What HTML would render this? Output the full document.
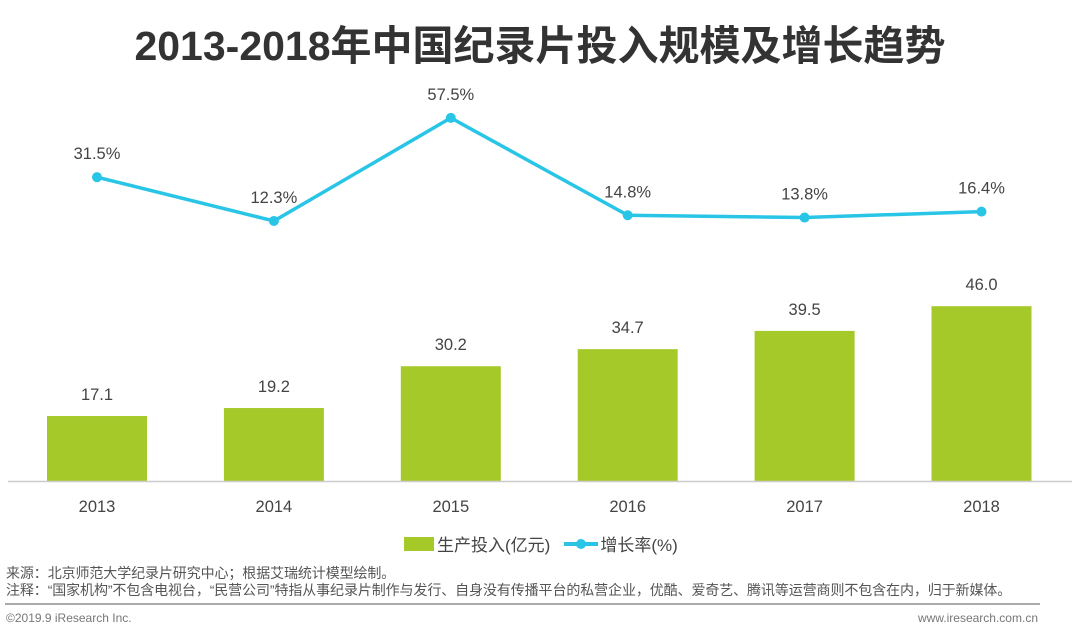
<!DOCTYPE html>
<html><head><meta charset="utf-8">
<style>
body{margin:0;width:1080px;height:637px;background:#fff;font-family:"Liberation Sans","Noto Sans CJK SC",sans-serif;overflow:hidden;position:relative}
.t{position:absolute}
</style></head><body>
<div class="t" style="left:0;width:1080px;top:12px;text-align:center;font-size:41px;font-weight:bold;color:#333">2013-2018年中国纪录片投入规模及增长趋势</div>
<svg id="chart" width="1080" height="560" style="position:absolute;left:0;top:0"></svg>
<div class="t" style="left:404px;top:531px;font-size:17px;color:#444;display:flex;align-items:center">
<span style="display:inline-block;width:30px;height:14px;background:#a6c92a;margin-right:3px"></span><span>生产投入(亿元)</span>
<svg width="34" height="14" style="margin-left:14px"><line x1="0" y1="7" x2="34" y2="7" stroke="#29c5e6" stroke-width="4"/><circle cx="17" cy="7" r="5" fill="#29c5e6"/></svg><span style="margin-left:2px">增长率(%)</span></div>
<div class="t" style="left:6px;top:565px;font-size:14px;color:#555;line-height:17px;letter-spacing:-0.1px">来源：北京师范大学纪录片研究中心；根据艾瑞统计模型绘制。<br>注释：“国家机构”不包含电视台，“民营公司”特指从事纪录片制作与发行、自身没有传播平台的私营企业，优酷、爱奇艺、腾讯等运营商则不包含在内，归于新媒体。</div>
<div style="position:absolute;left:5px;top:603px;width:1035px;height:2px;background:#aaa"></div>
<div class="t" style="left:6px;top:611px;font-size:12px;color:#777">©2019.9 iResearch Inc.</div>
<div class="t" style="right:42px;top:611px;font-size:12px;color:#777">www.iresearch.com.cn</div>
<script>
const categories=["2013","2014","2015","2016","2017","2018"];
const investment=[17.1,19.2,30.2,34.7,39.5,46.0];
const growth=[31.5,12.3,57.5,14.8,13.8,16.4];
const svg=document.getElementById('chart');
const NS='http://www.w3.org/2000/svg';
const x0=97,step=176.9,base=481,barW=100;
const xs=i=>x0+i*step;
const yBar=v=>base-v*3.8;
const yLine=v=>249-v*2.28;
function mk(tag,attrs,text){const e=document.createElementNS(NS,tag);for(const k in attrs)e.setAttribute(k,attrs[k]);if(text!==undefined)e.textContent=text;svg.appendChild(e);return e;}
categories.forEach((c,i)=>{
 const b=mk('rect',{x:xs(i)-barW/2,y:yBar(investment[i]),width:barW,height:base-yBar(investment[i]),fill:'#a6c92a'});
 
 
 const l=mk('text',{x:xs(i),y:yBar(investment[i])-16,'text-anchor':'middle','font-size':16.5,fill:'#444'},investment[i].toFixed(1));
 
 
 const t=mk('text',{x:xs(i),y:512,'text-anchor':'middle','font-size':16.5,fill:'#444'},c);
 
 
});
const ax=mk('line',{x1:8,x2:1072,y1:base+0.5,y2:base+0.5,stroke:'#ccc','stroke-width':1.5});


const pl=mk('polyline',{points:growth.map((v,i)=>xs(i)+','+yLine(v)).join(' '),fill:'none',stroke:'#29c5e6','stroke-width':3.5});


growth.forEach((v,i)=>{
 const p=mk('circle',{cx:xs(i),cy:yLine(v),r:5,fill:'#29c5e6'});
 
 
 const l=mk('text',{x:xs(i),y:yLine(v)-18,'text-anchor':'middle','font-size':16.5,fill:'#444'},v.toFixed(1)+'%');
 
 
});
</script>
</body></html>
